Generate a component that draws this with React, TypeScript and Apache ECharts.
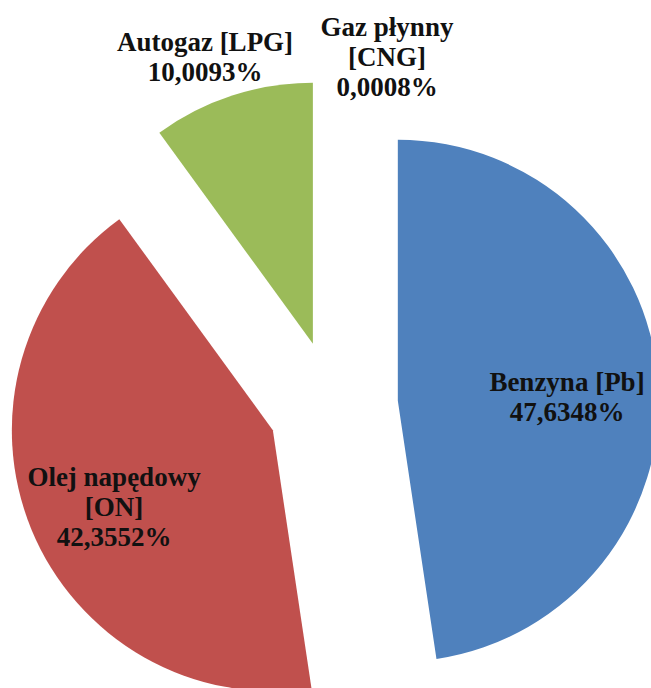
import React, { useEffect, useRef } from "react";
import * as echarts from "echarts";

const categories = ["Benzyna [Pb]", "Olej napędowy [ON]", "Autogaz [LPG]", "Gaz płynny [CNG]"];
const shares = [47.6348, 42.3552, 10.0093, 0.0008];
const colors = ["#4F81BD", "#C0504D", "#9BBB59", "#8064A2"];
const wrapName = [false, true, false, true];
// label block centres (pixels)
const labelX = [567, 114, 205, 387];
const labelY = [397, 507, 57, 57];

const labelText = (i: number) => {
  const name = wrapName[i] ? categories[i].replace(" [", "\n[") : categories[i];
  return name + "\n" + shares[i].toFixed(4).replace(".", ",") + "%";
};

export default function App() {
  const ref = useRef<HTMLDivElement>(null);
  useEffect(() => {
    if (!ref.current) return;
    const chart = echarts.init(ref.current, null, { renderer: "svg" });
    chart.setOption({
      animation: false,
      backgroundColor: "#ffffff",
      series: [
        {
          type: "pie",
          center: [333, 405.6],
          radius: [0, 261],
          startAngle: 90,
          clockwise: true,
          selectedMode: "multiple",
          selectedOffset: 65,
          silent: true,
          emphasis: { disabled: true },
          itemStyle: { borderWidth: 0 },
          labelLine: { show: false },
          label: { show: false },
          data: categories.map((c, i) => ({
            name: c,
            value: shares[i],
            selected: true,
            itemStyle: { color: colors[i] },
          })),
        },
      ],
      graphic: categories.map((_, i) => ({
        type: "text",
        x: labelX[i],
        y: labelY[i],
        silent: true,
        z: 10,
        style: {
          text: labelText(i),
          fontFamily: "Liberation Serif",
          fontWeight: "bold",
          fontSize: 27,
          lineHeight: 30,
          fill: "#111111",
          align: "center",
          verticalAlign: "middle",
        },
      })),
    });
    return () => chart.dispose();
  }, []);
  return (
    <div
      ref={ref}
      style={{ position: "fixed", left: 0, top: 0, width: 651, height: 688 }}
    />
  );
}
